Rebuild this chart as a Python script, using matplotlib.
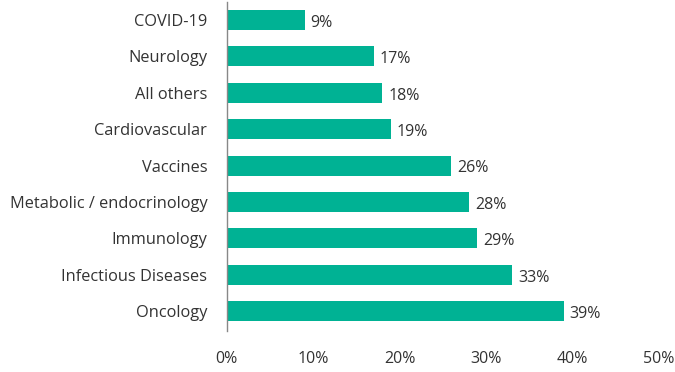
"""Horizontal bar chart of share by therapeutic area."""

import matplotlib
matplotlib.use("Agg")
import matplotlib.pyplot as plt
from matplotlib.ticker import FuncFormatter

categories = [
    "COVID-19",
    "Neurology",
    "All others",
    "Cardiovascular",
    "Vaccines",
    "Metabolic / endocrinology",
    "Immunology",
    "Infectious Diseases",
    "Oncology",
]
values = [9, 17, 18, 19, 26, 28, 29, 33, 39]
x_ticks = [0, 10, 20, 30, 40, 50]

BAR_COLOR = "#00B294"
TEXT_COLOR = "#333333"

plt.rcParams["font.family"] = ["Open Sans", "DejaVu Sans"]

fig = plt.figure(figsize=(6.75, 3.72), dpi=100)
ax = fig.add_axes([0.336, 0.11, 0.64, 0.885])

y = list(range(len(categories)))
ax.barh(y, values, height=0.55, color=BAR_COLOR)
for yi, v in zip(y, values):
    ax.text(v + 0.7, yi + 0.08, f"{v}%", va="center", ha="left",
            fontsize=11.5, color=TEXT_COLOR)

ax.set_yticks(y)
ax.set_yticklabels(categories, fontsize=11.8, color=TEXT_COLOR)
ax.set_ylim(len(categories) - 0.45, -0.5)
ax.set_xlim(0, 50)
ax.set_xticks(x_ticks)
ax.xaxis.set_major_formatter(FuncFormatter(lambda v, _: f"{v:.0f}%"))
ax.tick_params(axis="x", length=0, pad=14, labelsize=11.5, labelcolor=TEXT_COLOR)
ax.tick_params(axis="y", length=0, pad=14)

for side in ("top", "right", "bottom"):
    ax.spines[side].set_visible(False)
ax.spines["left"].set_color("#888888")
ax.spines["left"].set_linewidth(1)

fig.savefig("out.png", dpi=100)
